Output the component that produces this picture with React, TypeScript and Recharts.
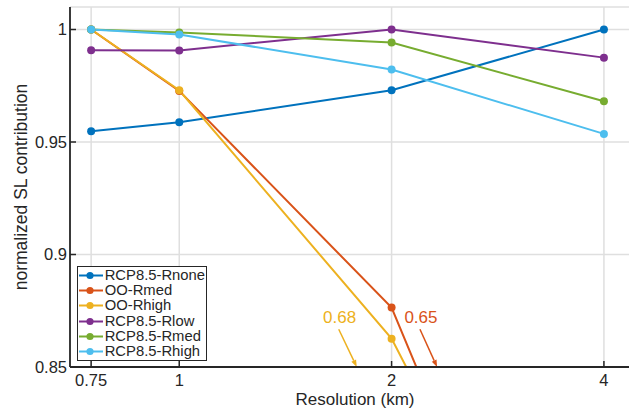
import {
  LineChart, Line, XAxis, YAxis, CartesianGrid, Legend,
  ReferenceLine, ReferenceDot,
} from "recharts";

// resolution in km (log axis)
const resolutions = [0.75, 1, 2, 4];

const rcpRnone = [0.9548, 0.9588, 0.973, 1.0];
const ooRmed = [1.0, 0.9727, 0.8764, 0.65];
const ooRhigh = [1.0, 0.973, 0.8626, 0.68];
const rcpRlow = [0.9908, 0.9907, 1.0, 0.9875];
const rcpRmed = [1.0, 0.9987, 0.9942, 0.9681];
const rcpRhigh = [1.0, 0.9978, 0.9822, 0.9536];

const xTicks = [0.75, 1, 2, 4];
const yTicks = [0.85, 0.9, 0.95, 1];

// off-scale callouts for the two OO runs at 4 km
const callouts = [
  { text: "0.68", color: "#EDB120", label: [1.688, 0.8721], from: [1.683, 0.8668], to: [1.785, 0.85] },
  { text: "0.65", color: "#D95319", label: [2.201, 0.8721], from: [2.194, 0.8668], to: [2.32, 0.85] },
];

const series = [
  { key: "rnone", name: "RCP8.5-Rnone", color: "#0072BD", values: rcpRnone },
  { key: "oomed", name: "OO-Rmed", color: "#D95319", values: ooRmed },
  { key: "oohigh", name: "OO-Rhigh", color: "#EDB120", values: ooRhigh },
  { key: "rlow", name: "RCP8.5-Rlow", color: "#7E2F8E", values: rcpRlow },
  { key: "rmed", name: "RCP8.5-Rmed", color: "#77AC30", values: rcpRmed },
  { key: "rhigh", name: "RCP8.5-Rhigh", color: "#4DBEEE", values: rcpRhigh },
];

const data = resolutions.map((r, i) => {
  const row: Record<string, number> = { res: r };
  series.forEach((s) => (row[s.key] = s.values[i]));
  return row;
});

const FONT = "'Liberation Sans', Arial, Helvetica, sans-serif";
const INK = "#262626";

function Arrow(props: any) {
  const { x1, y1, x2, y2, stroke } = props;
  const dx = x2 - x1;
  const dy = y2 - y1;
  const len = Math.sqrt(dx * dx + dy * dy) || 1;
  const ux = dx / len;
  const uy = dy / len;
  const hl = 7;
  const hw = 2.6;
  const bx = x2 - ux * hl;
  const by = y2 - uy * hl;
  const pts = `${x2},${y2} ${bx - uy * hw},${by + ux * hw} ${bx + uy * hw},${by - ux * hw}`;
  return (
    <g>
      <line x1={x1} y1={y1} x2={bx} y2={by} stroke={stroke} strokeWidth={1.5} />
      <polygon points={pts} fill={stroke} />
    </g>
  );
}

function LegendBox() {
  return (
    <div
      style={{
        border: `1.5px solid ${INK}`,
        background: "#fff",
        padding: "1px 0 1px 0",
        width: 128,
        fontFamily: FONT,
        fontSize: 14.8,
        color: INK,
      }}
    >
      {series.map((s) => (
        <div key={s.key} style={{ display: "flex", alignItems: "center", height: 15.2 }}>
          <svg width={24} height={15} style={{ marginLeft: 1, marginRight: 2 }}>
            <line x1={0} y1={7.5} x2={24} y2={7.5} stroke={s.color} strokeWidth={2} />
            <circle cx={11} cy={7.5} r={3.6} fill={s.color} />
          </svg>
          <span style={{ lineHeight: "15px", whiteSpace: "nowrap" }}>{s.name}</span>
        </div>
      ))}
    </div>
  );
}

const yLabel = (p: any) => {
  const vb = p.viewBox;
  const cx = vb.x + 21;
  const cy = vb.y + vb.height / 2;
  return (
    <text x={cx} y={cy} transform={`rotate(-90, ${cx}, ${cy})`} textAnchor="middle"
      dominantBaseline="central" fill={INK} fontSize={17.5} fontFamily={FONT}>
      normalized SL contribution
    </text>
  );
};

const xLabel = (p: any) => {
  const vb = p.viewBox;
  return (
    <text x={vb.x + vb.width / 2} y={vb.y + 32} textAnchor="middle"
      dominantBaseline="central" fill={INK} fontSize={17} fontFamily={FONT}>
      Resolution (km)
    </text>
  );
};

export default function App() {
  const tickStyle = { fill: INK, fontSize: 16.5, fontFamily: FONT };
  return (
    <div style={{ position: "absolute", left: 0, top: 0, width: 629, height: 410, overflow: "hidden", background: "#fff" }}>
      <LineChart width={640} height={410} data={data} margin={{ top: 7, right: 0, bottom: 0, left: 0 }}>
        <CartesianGrid stroke="#dfdfdf" strokeWidth={1.5} />
        <XAxis
          dataKey="res"
          type="number"
          scale="log"
          domain={[0.7, 4.5]}
          ticks={xTicks}
          allowDataOverflow
          height={43}
          tickFormatter={(v) => String(v)}
          tick={tickStyle}
          tickSize={-6}
          tickMargin={13}
          axisLine={{ stroke: INK, strokeWidth: 1.8 }}
          tickLine={{ stroke: INK, strokeWidth: 1.5 }}
          label={xLabel}
        />
        <XAxis
          xAxisId="top"
          orientation="top"
          dataKey="res"
          type="number"
          scale="log"
          domain={[0.7, 4.5]}
          ticks={xTicks}
          allowDataOverflow
          height={0}
          tickFormatter={() => ""}
          tickSize={-6}
          axisLine={{ stroke: INK, strokeWidth: 1.8 }}
          tickLine={{ stroke: INK, strokeWidth: 1.5 }}
        />
        <YAxis
          type="number"
          domain={[0.85, 1.01]}
          ticks={yTicks}
          allowDataOverflow
          width={70}
          tickFormatter={(v) => String(v)}
          tick={tickStyle}
          tickSize={-6}
          tickMargin={9}
          axisLine={{ stroke: INK, strokeWidth: 1.8 }}
          tickLine={{ stroke: INK, strokeWidth: 1.5 }}
          label={yLabel}
        />
        {series.map((s) => (
          <Line
            key={s.key}
            dataKey={s.key}
            name={s.name}
            type="linear"
            stroke={s.color}
            strokeWidth={2}
            dot={{ r: 4, fill: s.color, stroke: s.color, strokeWidth: 0 }}
            activeDot={false}
            isAnimationActive={false}
          />
        ))}
        {callouts.map((c) => (
          <ReferenceLine
            key={`a-${c.text}`}
            segment={[{ x: c.from[0], y: c.from[1] }, { x: c.to[0], y: c.to[1] }]}
            stroke={c.color}
            ifOverflow="visible"
            shape={Arrow}
          />
        ))}
        {callouts.map((c) => (
          <ReferenceDot
            key={`t-${c.text}`}
            x={c.label[0]}
            y={c.label[1]}
            r={0}
            fill="none"
            stroke="none"
            ifOverflow="visible"
            label={{ value: c.text, position: "center", fill: c.color, fontSize: 17, fontFamily: FONT }}
          />
        ))}
        <Legend
          layout="horizontal"
          verticalAlign="middle"
          align="center"
          content={() => <LegendBox />}
          wrapperStyle={{ left: 76.7, top: 266, width: "auto", height: "auto" }}
        />
      </LineChart>
    </div>
  );
}
